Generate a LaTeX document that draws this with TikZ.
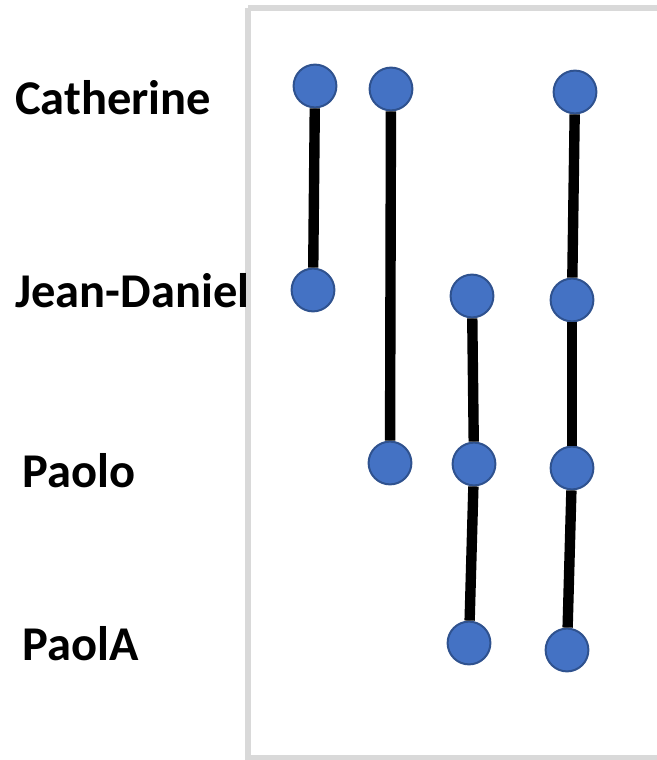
\documentclass[tikz,border=0pt]{standalone}
\usepackage{fontspec}
\setmainfont{Carlito}
\usepackage{tikz}
\usetikzlibrary{positioning}
\definecolor{dotblue}{HTML}{4472C4}
\definecolor{dotedge}{HTML}{2F528F}
\definecolor{framegray}{HTML}{D9D9D9}

\begin{document}
\begin{tikzpicture}[x=0.025cm, y=-0.025cm,
    dot/.style={circle, draw=dotedge, fill=dotblue, line width=0.05cm, minimum size=1.07cm, inner sep=0pt},
    person/.style={anchor=base west, inner sep=0pt, font=\fontsize{34.5}{40}\selectfont\bfseries},
    link/.style={line width=0.26cm, black}]
   \useasboundingbox (0,0) rectangle (656,760);
   \draw[framegray, line width=0.14cm] (248,8) -- (680,8) (248,8) -- (248,758) -- (680,758);

   \node[person] (cath) at (15,115) {Catherine};
   \node[person] (jean) at (15,307) {Jean-Daniel};
   \node[person] (paolo) at (22,487) {Paolo};
   \node[person] (paola) at (22,660) {PaolA};

   \node[dot] (c1a) at (315,86) {};
   \node[dot] (c1b) at (313,290) {};
   \node[dot] (c2a) at (391,89) {};
   \node[dot] (c2b) at (390,463) {};
   \node[dot] (c3a) at (472,296) {};
   \node[dot] (c3b) at (474,464) {};
   \node[dot] (c3c) at (469,643) {};
   \node[dot] (c4a) at (575,92) {};
   \node[dot] (c4b) at (572,300) {};
   \node[dot] (c4c) at (572,468) {};
   \node[dot] (c4d) at (567,650) {};

  \path[link]
    (c1a) edge (c1b)
    (c2a) edge (c2b)
    (c3a) edge (c3b)
    (c3b) edge (c3c)
    (c4a) edge (c4b)
    (c4b) edge (c4c)
    (c4c) edge (c4d);
  \end{tikzpicture}
\end{document}
